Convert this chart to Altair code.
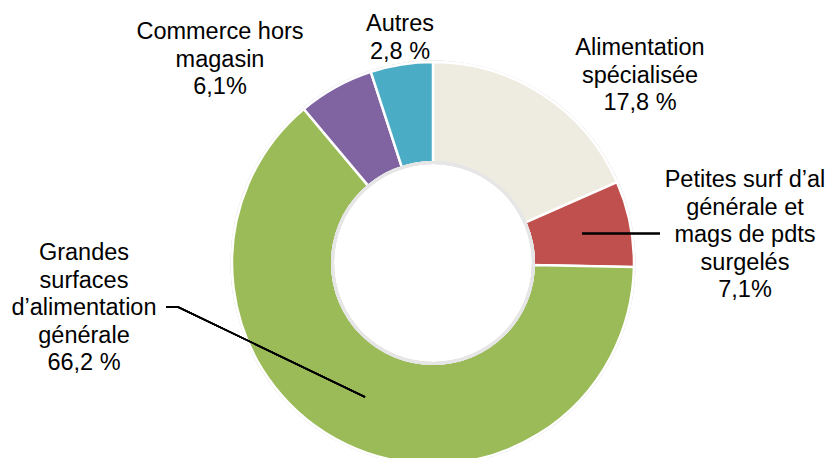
import altair as alt
import pandas as pd

# --- data ---
categories = [
    "Alimentation spécialisée",
    "Petites surf d'al générale et mags de pdts surgelés",
    "Grandes surfaces d'alimentation générale",
    "Commerce hors magasin",
    "Autres",
]
# slice sizes as drawn in the picture (share of the circle, %)
shares = [18.4, 6.9, 63.5, 6.1, 5.0]
colors = ["#EEECE1", "#C0504D", "#9BBB59", "#8064A2", "#4BACC6"]
label_texts = [
    "Alimentation\nspécialisée\n17,8 %",
    "Petites surf d’al\ngénérale et\nmags de pdts\nsurgelés\n7,1%",
    "Grandes\nsurfaces\nd’alimentation\ngénérale\n66,2 %",
    "Commerce hors\nmagasin\n6,1%",
    "Autres\n2,8 %",
]

# --- layout (pixels inside the view) ---
CX, CY = 425, 255
label_x = [632, 737, 76, 212, 392]
label_y = [47, 179, 252, 31, 23]

slices = pd.DataFrame({"cat": categories, "share": shares, "order": list(range(len(categories)))})
labels = pd.DataFrame({"cat": categories, "txt": label_texts, "lx": label_x, "ly": label_y})

arcs = alt.Chart(slices).mark_arc(
    innerRadius=100, outerRadius=201, stroke="white", strokeWidth=2.5
).encode(
    theta=alt.Theta("share:Q", stack=True),
    order=alt.Order("order:O"),
    color=alt.Color("cat:N", scale=alt.Scale(domain=categories, range=colors), legend=None),
    x=alt.value(CX),
    y=alt.value(CY),
)

inner_ring = alt.Chart(slices).mark_arc(
    innerRadius=99, outerRadius=102, color="#e6e6e6"
).encode(
    theta=alt.value(0), theta2=alt.value(6.2832), x=alt.value(CX), y=alt.value(CY)
)

outer_ring = alt.Chart(slices).mark_arc(
    innerRadius=201, outerRadius=202.5, color="#ececec"
).encode(
    theta=alt.value(0), theta2=alt.value(6.2832), x=alt.value(CX), y=alt.value(CY)
)

text = alt.Chart(labels).mark_text(
    lineBreak="\n", font="Liberation Sans", fontSize=23.5, lineHeight=27.5,
    align="center", baseline="alphabetic", color="black"
).encode(
    x=alt.X("lx:Q", scale=None),
    y=alt.Y("ly:Q", scale=None),
    text="txt:N",
)

rule_style = dict(color="black", strokeWidth=1.5)
r1 = alt.Chart(slices).mark_rule(**rule_style).encode(
    x=alt.value(574), x2=alt.value(652), y=alt.value(225.5), y2=alt.value(225.5))
r2 = alt.Chart(slices).mark_rule(**rule_style).encode(
    x=alt.value(158), x2=alt.value(170), y=alt.value(299), y2=alt.value(299))
r3 = alt.Chart(slices).mark_rule(**rule_style).encode(
    x=alt.value(170), x2=alt.value(357), y=alt.value(299), y2=alt.value(389))

chart = alt.layer(outer_ring, arcs, inner_ring, text, r1, r2, r3).properties(
    width=821, height=450, padding=0, autosize="none"
).configure_view(stroke=None)

chart.save("out.html", embed_options={"renderer": "svg", "actions": False})
